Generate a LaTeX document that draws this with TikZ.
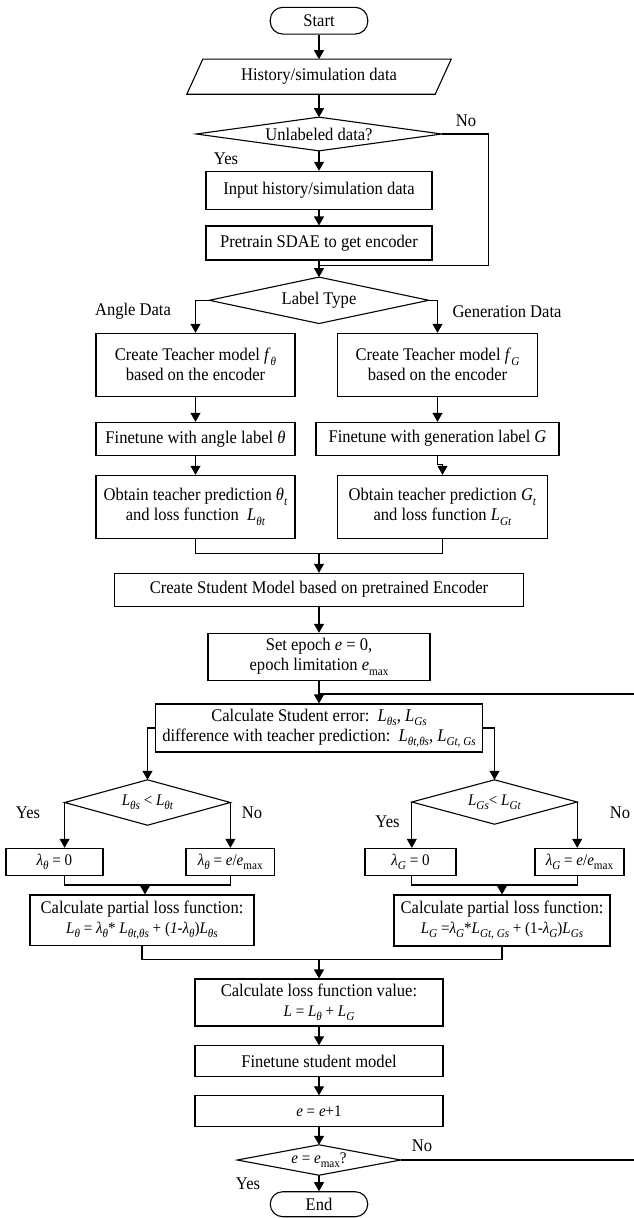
\documentclass[tikz,border=0pt]{standalone}
\usepackage{fontspec}
\setmainfont{Liberation Serif}[FakeStretch=0.93]
\usetikzlibrary{arrows.meta}
\newcommand{\iv}[1]{\textit{#1}}
\newcommand{\sbs}[1]{\raisebox{-0.25em}{\fontsize{12}{12}\selectfont #1}}
\newcommand{\fm}{\fontsize{16.2}{19}\selectfont}
\begin{document}
\begin{tikzpicture}[x=1pt,y=-1pt,
  ln/.style={line width=1.1pt},
  arr/.style={line width=1.1pt,-{Triangle[length=9pt,width=10pt]}},
  box/.style={draw, line width=1.1pt, rectangle, inner sep=0pt, align=center, font=\fontsize{17.8}{20}\selectfont},
  term/.style={box, rounded corners=12.5pt},
  plain/.style={rectangle, inner sep=0pt, align=center, font=\fontsize{17.8}{20}\selectfont},
  lbl/.style={inner sep=0pt, font=\fontsize{17.8}{20}\selectfont}]
\useasboundingbox (0,0) rectangle (633,1218);

% main column
\node[term, minimum width=97.5pt, minimum height=26.7pt] (start) at (319,20.7) {Start};
\node[plain, minimum width=264pt, minimum height=34.7pt] (hist) at (319,76.7) {History/simulation data};
\draw[ln] ([xshift=16pt]hist.north west) -- (hist.north east) -- ([xshift=-16pt]hist.south east) -- (hist.south west) -- cycle;
\node[plain, minimum width=245pt, minimum height=33.3pt] (unl) at (319,134) {Unlabeled data?};
\node[box, minimum width=226pt, minimum height=38pt] (input) at (319,190.3) {Input history/simulation data};
\node[box, minimum width=226pt, minimum height=34pt] (pre) at (319,243) {Pretrain SDAE to get encoder};
\node[plain, minimum width=219pt, minimum height=46pt] (lab) at (319,300.3) {Label Type};

% teacher branches
\node[box, minimum width=199pt, minimum height=62.7pt] (tL) at (195.5,364.7) {Create Teacher model \iv{f}\sbs{\iv{θ}}\\based on the encoder};
\node[box, minimum width=199.5pt, minimum height=62.7pt] (tR) at (437.5,364.7) {Create Teacher model \iv{f}\sbs{\iv{G}}\\based on the encoder};
\node[box, minimum width=199pt, minimum height=32.7pt] (fL) at (195.5,438.7) {Finetune with angle label \iv{θ}};
\node[box, minimum width=243pt, minimum height=32.7pt] (fR) at (437.5,438.7) {Finetune with generation label \iv{G}};
\node[box, minimum width=199pt, minimum height=62.7pt] (oL) at (195.5,506.7) {Obtain teacher prediction \iv{θ}\sbs{\iv{t}}\\and loss function\ \ \iv{L}\sbs{\iv{θt}}};
\node[box, minimum width=210pt, minimum height=62.7pt] (oR) at (442.5,506.7) {Obtain teacher prediction \iv{G}\sbs{\iv{t}}\\and loss function \iv{L}\sbs{\iv{Gt}}};

\node[box, minimum width=409.3pt, minimum height=32.7pt] (stu) at (319,589.7) {Create Student Model based on pretrained Encoder};
\node[box, minimum width=222pt, minimum height=46.7pt] (ep) at (319,656.7) {Set epoch \iv{e} = 0,\\epoch limitation \iv{e}\sbs{max}};
\node[box, minimum width=327pt, minimum height=48pt] (calc) at (319,728) {Calculate Student error:\ \ \iv{L}\sbs{\iv{θs}}, \iv{L}\sbs{\iv{Gs}}\\difference with teacher prediction:\ \ \iv{L}\sbs{\iv{θt},\iv{θs}}, \iv{L}\sbs{\iv{Gt}, \iv{Gs}}};

% left loss branch
\node[plain, minimum width=165.4pt, minimum height=45pt] (dL) at (147.5,802.5) {\fm\iv{L}\sbs{\iv{θs}} < \iv{L}\sbs{\iv{θt}}};
\node[box, minimum width=97pt, minimum height=26.7pt] (l0L) at (54.5,861.7) {\fm\iv{λ}\sbs{\iv{θ}} = 0};
\node[box, minimum width=88.5pt, minimum height=26.7pt] (l1L) at (230.2,861.7) {\fm\iv{λ}\sbs{\iv{θ}} = \iv{e}/\iv{e}\sbs{max}};
\node[box, minimum width=224pt, minimum height=50.7pt] (pL) at (142,920.3) {Calculate partial loss function:\\\fm\iv{L}\sbs{\iv{θ}} = \iv{λ}\sbs{\iv{θ}}* \iv{L}\sbs{\iv{θt},\iv{θs}} + (\iv{1-}\iv{λ}\sbs{\iv{θ}})\iv{L}\sbs{\iv{θs}}};

% right loss branch
\node[plain, minimum width=165pt, minimum height=44pt] (dR) at (494.5,802) {\fm\iv{L}\sbs{\iv{Gs}}< \iv{L}\sbs{\iv{Gt}}};
\node[box, minimum width=91pt, minimum height=26.7pt] (l0R) at (410.5,861.7) {\fm\iv{λ}\sbs{\iv{G}} = 0};
\node[box, minimum width=89pt, minimum height=26.7pt] (l1R) at (579.5,861.7) {\fm\iv{λ}\sbs{\iv{G}} = \iv{e}/\iv{e}\sbs{max}};
\node[box, minimum width=216pt, minimum height=51pt] (pR) at (502,920.5) {Calculate partial loss function:\\\fm\iv{L}\sbs{\iv{G}} =\iv{λ}\sbs{\iv{G}}*\iv{L}\sbs{\iv{Gt}, \iv{Gs}} + (1-\iv{λ}\sbs{\iv{G}})\iv{L}\sbs{\iv{Gs}}};

% bottom column
\node[box, minimum width=248pt, minimum height=47pt] (calc2) at (319,1002.5) {Calculate loss function value:\\\fm\iv{L} = \iv{L}\sbs{\iv{θ}} + \iv{L}\sbs{\iv{G}}};
\node[box, minimum width=248pt, minimum height=30.3pt] (fs) at (319,1061) {Finetune student model};
\node[box, minimum width=248pt, minimum height=30.3pt] (inc) at (319,1111) {\fm\iv{e} = \iv{e}+1};
\node[plain, minimum width=163pt, minimum height=30pt] (dE) at (319,1160) {\fm\iv{e} = \iv{e}\sbs{max}?};
\node[term, minimum width=97.5pt, minimum height=25pt] (end) at (319,1204.2) {End};

% diamonds
\foreach \n in {unl,lab,dL,dR,dE}
  \draw[ln] (\n.north) -- (\n.east) -- (\n.south) -- (\n.west) -- cycle;

% labels
\node[lbl] (no1) at (466,121) {No};
\node[lbl] (yes1) at (226,159) {Yes};
\node[lbl] (angle) at (133,311.7) {Angle Data};
\node[lbl] (gen) at (507,311.7) {Generation Data};
\node[lbl] (yesL) at (28,813) {Yes};
\node[lbl] (noL) at (252,813) {No};
\node[lbl] (yesR) at (387.5,822) {Yes};
\node[lbl] (noR) at (620,813) {No};
\node[lbl] (noE) at (422,1146) {No};
\node[lbl] (yesE) at (248,1184) {Yes};

% helper coordinates
\coordinate (noc) at (488.5,265.7);
\coordinate (noj) at (319,265.7);
\coordinate (m1) at (319,553.3);
\coordinate (j2) at (319,694);
\coordinate (r1) at (645,1160);
\coordinate (r2) at (645,694);
\coordinate (mL) at (145,885);
\coordinate (mR) at (502,885);
\coordinate (m3) at (319,959.3);

% connectors
\draw[arr] (start.south) -- (hist.north);
\draw[arr] (hist.south) -- (unl.north);
\draw[arr] (unl.south) -- (input.north);
\draw[arr] (input.south) -- (pre.north);
\draw[arr] (pre.south) -- (lab.north);
\draw[ln] (unl.east) -| (noc) -- (noj);
\draw[arr] (lab.west) -| (tL.north);
\draw[arr] (lab.east) -| (tR.north);
\draw[arr] (tL.south) -- (fL.north);
\draw[arr] (tR.south) -- (fR.north);
\draw[arr] (fL.south) -- (oL.north);
\draw[arr] (fR.south) -- ++(0,9.3) -| (oR.north);
\draw[ln] (oL.south) |- (m1) -| (oR.south);
\draw[arr] (m1) -- (stu.north);
\draw[arr] (stu.south) -- (ep.north);
\draw[arr] (ep.south) -- (calc.north);
\draw[ln] (dE.east) -- (r1) -- (r2) -- (j2);
\draw[arr] (calc.west) -| (dL.north);
\draw[arr] (calc.east) -| (dR.north);
\draw[arr] (dL.west) -- (dL.west |- l0L.north);
\draw[arr] (dL.east) -- (dL.east |- l1L.north);
\draw[ln] (dL.west |- l0L.south) |- (mL) -| (dL.east |- l1L.south);
\draw[arr] (mL) -- (mL |- pL.north);
\draw[arr] (dR.west) -- (dR.west |- l0R.north);
\draw[arr] (dR.east) -- (dR.east |- l1R.north);
\draw[ln] (dR.west |- l0R.south) |- (mR) -| (dR.east |- l1R.south);
\draw[arr] (mR) -- (pR.north);
\draw[ln] (pL.south) |- (m3) -| (pR.south);
\draw[arr] (m3) -- (calc2.north);
\draw[arr] (calc2.south) -- (fs.north);
\draw[arr] (fs.south) -- (inc.north);
\draw[arr] (inc.south) -- (dE.north);
\draw[arr] (dE.south) -- (end.north);
\end{tikzpicture}
\end{document}
